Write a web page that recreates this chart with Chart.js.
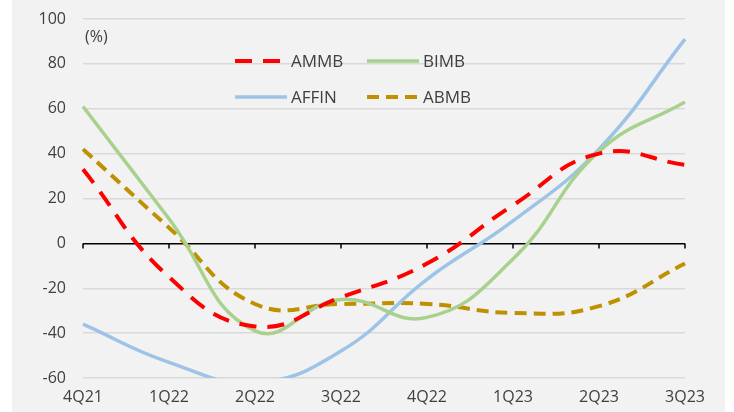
<!DOCTYPE html>
<html>
<head>
<meta charset="utf-8">
<script src="https://cdn.jsdelivr.net/npm/chart.js@4/dist/chart.umd.min.js"></script>
<style>
  html, body { margin: 0; padding: 0; background: #fff; }
  #wrap { position: relative; width: 734px; height: 412px; }
</style>
</head>
<body>
<div id="wrap"><canvas id="chart" width="734" height="412"></canvas></div>
<script>
// quarters on the x axis
const quarters = ['4Q21', '1Q22', '2Q22', '3Q22', '4Q22', '1Q23', '2Q23', '3Q23'];

// YoY growth, %
const ammb  = [33, -15, -37, -24, -9, 17, 40, 35];
const bimb  = [61, 11, -39, -25, -33, -7, 41, 63];
const affin = [-36, -53, -62, -48, -16, 10, 42, 91];
const abmb  = [42, 7, -27, -27, -27, -31, -28, -9];

const yMin = -60, yMax = 100, yStep = 20;

const FONT = '"Open Sans", "Noto Sans", sans-serif';
const TEXT = '#404040';

// grey panel behind the chart
const panelBg = {
    id: 'panelBg',
    beforeDraw(chart) {
        const c = chart.ctx;
        c.save();
        c.fillStyle = '#f2f2f2';
        c.fillRect(12, 0, 713, chart.height);
        c.restore();
    }
};

// zero axis tick marks + unit label
const zeroTicks = {
    id: 'zeroTicks',
    beforeDatasetsDraw(chart) {
        const c = chart.ctx, xs = chart.scales.x, ys = chart.scales.y;
        const y0 = ys.getPixelForValue(0);
        c.save();
        c.strokeStyle = '#000';
        c.lineWidth = 1.5;
        xs.ticks.forEach((t, i) => {
            const x = xs.getPixelForTick(i);
            c.beginPath();
            c.moveTo(x, y0);
            c.lineTo(x, y0 + 5);
            c.stroke();
        });
        c.fillStyle = TEXT;
        c.font = '16px ' + FONT;
        c.textBaseline = 'middle';
        c.fillText('(%)', 85, 37);
        c.restore();
    }
};

// two-column legend inside the plot
const boxLegend = {
    id: 'boxLegend',
    afterDraw(chart) {
        const c = chart.ctx;
        const spots = [[235, 61], [367, 61], [235, 97], [367, 97]];
        c.save();
        chart.data.datasets.forEach((ds, i) => {
            const [x, y] = spots[i];
            c.strokeStyle = ds.borderColor;
            c.lineWidth = ds.borderWidth;
            c.setLineDash(ds.borderDash || []);
            c.beginPath();
            c.moveTo(x, y);
            c.lineTo(x + 52, y);
            c.stroke();
            c.setLineDash([]);
            c.fillStyle = TEXT;
            c.font = '17px ' + FONT;
            c.textBaseline = 'middle';
            c.fillText(ds.label, x + 56, y + 1);
        });
        c.restore();
    }
};

new Chart(document.getElementById('chart'), {
    type: 'line',
    data: {
        labels: quarters,
        datasets: [
            { label: 'AMMB', data: ammb, borderColor: '#ff0000', borderWidth: 4, borderDash: [17, 11] },
            { label: 'BIMB', data: bimb, borderColor: '#a9d18e', borderWidth: 3.5 },
            { label: 'AFFIN', data: affin, borderColor: '#9dc3e6', borderWidth: 3.5 },
            { label: 'ABMB', data: abmb, borderColor: '#bf9000', borderWidth: 4, borderDash: [12, 7] }
        ]
    },
    options: {
        responsive: false,
        animation: false,
        layout: { padding: { top: 19, right: 49, left: 0, bottom: 0 } },
        elements: {
            point: { radius: 0 },
            line: { tension: 0.45, fill: false, borderCapStyle: 'butt' }
        },
        plugins: { legend: { display: false }, tooltip: { enabled: false } },
        scales: {
            x: {
                offset: false,
                grid: { display: false, drawTicks: false },
                border: { display: false },
                ticks: { color: TEXT, font: { size: 16, family: FONT }, padding: 10, maxRotation: 0 },
                afterFit(s) { s.height = 34; }
            },
            y: {
                min: yMin, max: yMax,
                ticks: { stepSize: yStep, color: TEXT, font: { size: 16, family: FONT }, padding: 17 },
                grid: {
                    drawTicks: false,
                    color: ctx => ctx.tick && ctx.tick.value === 0 ? '#000' : '#d9d9d9',
                    lineWidth: 1.5
                },
                border: { display: false },
                afterFit(s) {
                    s.width = 83;
                    // let layout padding alone decide the top edge
                    s.paddingTop = 0;
                    s.paddingBottom = 0;
                }
            }
        }
    },
    plugins: [panelBg, zeroTicks, boxLegend]
});
</script>
</body>
</html>
